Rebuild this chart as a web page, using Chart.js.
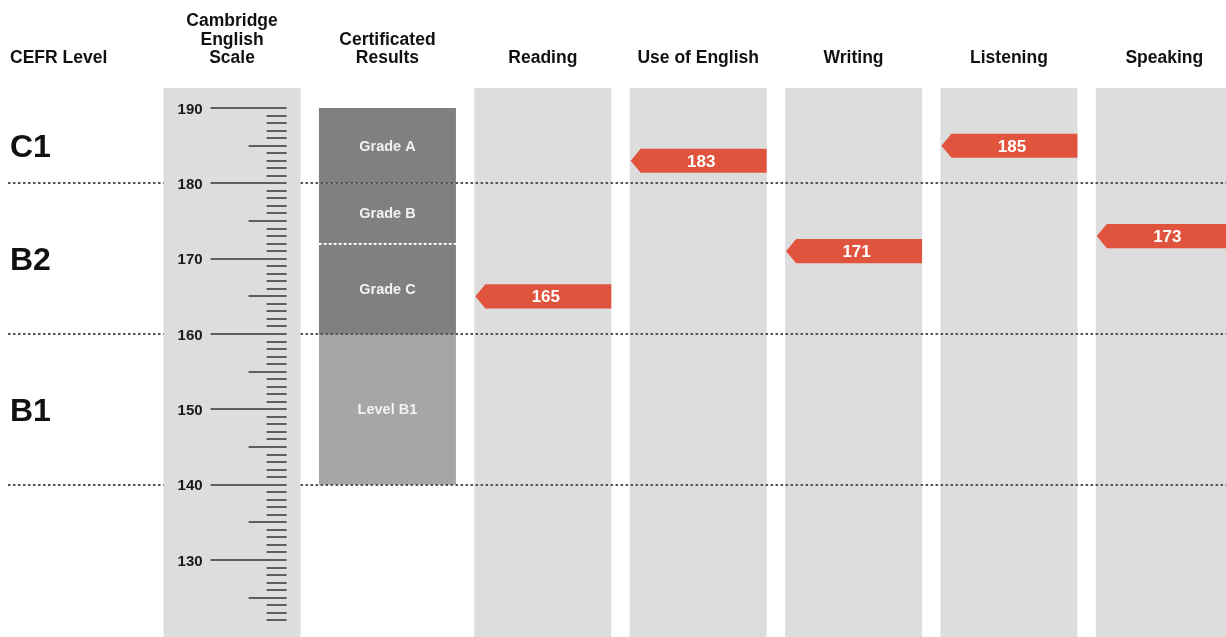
<!DOCTYPE html>
<html>
<head>
<meta charset="utf-8">
<script src="https://cdn.jsdelivr.net/npm/chart.js@4"></script>
<style>
  html, body { margin: 0; padding: 0; background: #fff; overflow: hidden; }
  #wrap { position: relative; width: 1226px; height: 637px; overflow: hidden; }
  #chart { position: absolute; left: -1px; top: 0; }
</style>
</head>
<body>
<div id="wrap"><canvas id="chart" width="1243" height="637"></canvas></div>
<script>
// columns across the page (the first one only holds the CEFR labels)
let columns = ["CEFR Level", "Cambridge English Scale", "Certificated Results", "Reading", "Use of English", "Writing", "Listening", "Speaking"];
let headerLines = [["CEFR Level"], ["Cambridge", "English", "Scale"], ["Certificated", "Results"], ["Reading"], ["Use of English"], ["Writing"], ["Listening"], ["Speaking"]];

// candidate scores per paper
let papers = ["Reading", "Use of English", "Writing", "Listening", "Speaking"];
let scores = [165, 183, 171, 185, 173];

// CEFR bands
let cefrLabels = ["C1", "B2", "B1"];
let cefrMid = [185, 170, 150];
let cefrBounds = [180, 160, 140];

// certificated results bands
let gradeNames = ["Grade A", "Grade B", "Grade C", "Level B1"];
let gradeLow = [180, 172, 160, 140];
let gradeHigh = [190, 180, 172, 160];

// Cambridge English Scale ruler
let scaleMin = 122;
let scaleMax = 190;
let scaleLabels = [190, 180, 170, 160, 150, 140, 130];

// visible range of the value axis
let yMin = 119.78;
let yMax = 204.34;
let columnTop = 192.65;

let RED = "#e0533d";

function columnData(fn) {
  return columns.map(function (c, i) { return fn(c, i); });
}

// grey backgrounds for the ruler and the five papers
let bgData = columnData(function (c, i) {
  return (i === 1 || i >= 3) ? [yMin - 10, columnTop] : null;
});

let gradeSets = gradeNames.map(function (name, g) {
  return {
    label: name,
    data: columnData(function (c, i) { return i === 2 ? [gradeLow[g], gradeHigh[g]] : null; }),
    backgroundColor: g < 3 ? "#808080" : "#a6a6a6",
    grouped: false,
    order: 2
  };
});

let flagData = columnData(function (c) {
  let k = papers.indexOf(c);
  return k < 0 ? null : [scores[k] - 1.6, scores[k] + 1.6];
});
let flagIndex = 1 + gradeSets.length;

// everything drawn on top of the bars
let overlay = {
  id: "overlay",
  afterDatasetsDraw: function (chart) {
    let ctx = chart.ctx;
    let xs = chart.scales.x;
    let ys = chart.scales.y;
    let W = chart.width;
    let ruler = chart.getDatasetMeta(0).data[1];
    let rulerL = ruler.x - ruler.width / 2;
    let rulerR = ruler.x + ruler.width / 2;
    let cert = chart.getDatasetMeta(1).data[2];
    let certL = cert.x - cert.width / 2;
    let certR = cert.x + cert.width / 2;

    ctx.save();

    // dotted CEFR boundaries
    ctx.lineWidth = 2;
    ctx.setLineDash([2.5, 2.5]);
    ctx.strokeStyle = "#555555";
    cefrBounds.forEach(function (b) {
      let py = Math.round(ys.getPixelForValue(b));
      ctx.beginPath();
      ctx.moveTo(9, py);
      ctx.lineTo(rulerL, py);
      ctx.moveTo(rulerR, py);
      ctx.lineTo(W, py);
      ctx.stroke();
    });

    // white dotted line between Grade B and Grade C
    ctx.strokeStyle = "#ffffff";
    gradeLow.forEach(function (b) {
      if (cefrBounds.indexOf(b) >= 0) return;
      let py = Math.round(ys.getPixelForValue(b));
      ctx.beginPath();
      ctx.moveTo(certL, py);
      ctx.lineTo(certR, py);
      ctx.stroke();
    });
    ctx.setLineDash([]);

    // ruler ticks
    ctx.strokeStyle = "#5e5e5e";
    ctx.lineWidth = 2;
    let tickR = rulerR - 14;
    for (let v = scaleMin; v <= scaleMax; v++) {
      let len = v % 10 === 0 ? 76 : (v % 5 === 0 ? 38 : 20);
      let py = Math.round(ys.getPixelForValue(v));
      ctx.beginPath();
      ctx.moveTo(tickR - len, py);
      ctx.lineTo(tickR, py);
      ctx.stroke();
    }
    ctx.fillStyle = "#1a1a1a";
    ctx.font = "bold 15px 'Liberation Sans', Arial, sans-serif";
    ctx.textAlign = "right";
    ctx.textBaseline = "alphabetic";
    scaleLabels.forEach(function (v) {
      ctx.fillText(String(v), rulerL + 39, ys.getPixelForValue(v) + 5.5);
    });

    // headers
    ctx.fillStyle = "#111111";
    ctx.font = "bold 17.5px 'Liberation Sans', Arial, sans-serif";
    headerLines.forEach(function (lines, i) {
      let cx = xs.getPixelForValue(i);
      ctx.textAlign = i === 0 ? "left" : "center";
      if (i === 0) cx = 11;
      lines.forEach(function (line, k) {
        let by = 63.3 - (lines.length - 1 - k) * 18.5;
        ctx.fillText(line, cx, by);
      });
    });

    // CEFR level letters
    ctx.font = "bold 32px 'Liberation Sans', Arial, sans-serif";
    ctx.textAlign = "left";
    cefrLabels.forEach(function (lab, k) {
      ctx.fillText(lab, 11, ys.getPixelForValue(cefrMid[k]) + 11.5);
    });

    // grade labels
    ctx.font = "bold 14.5px 'Liberation Sans', Arial, sans-serif";
    ctx.textAlign = "center";
    ctx.fillStyle = "#f2f2f2";
    gradeNames.forEach(function (name, g) {
      let mid = ys.getPixelForValue((gradeLow[g] + gradeHigh[g]) / 2);
      ctx.fillText(name, cert.x, mid + 5);
    });

    // score flags
    let flagMeta = chart.getDatasetMeta(flagIndex);
    columns.forEach(function (c, i) {
      let k = papers.indexOf(c);
      if (k < 0) return;
      let el = flagMeta.data[i];
      let p = el.getProps(["x", "y", "base", "width"], true);
      let left = p.x - p.width / 2;
      let right = p.x + p.width / 2;
      let top = Math.min(p.y, p.base);
      let bottom = Math.max(p.y, p.base);
      let mid = (top + bottom) / 2;
      ctx.fillStyle = RED;
      ctx.beginPath();
      ctx.moveTo(left + 1, mid);
      ctx.lineTo(left + 11, top);
      ctx.lineTo(right, top);
      ctx.lineTo(right, bottom);
      ctx.lineTo(left + 11, bottom);
      ctx.closePath();
      ctx.fill();
      ctx.fillStyle = "#ffffff";
      ctx.font = "bold 17px 'Liberation Sans', Arial, sans-serif";
      ctx.fillText(String(scores[k]), (left + right) / 2 + 3, mid + 6);
    });

    ctx.restore();
  }
};

let ctx = document.getElementById("chart").getContext("2d");

let chart = new Chart(ctx, {
  type: "bar",
  data: {
    labels: columns,
    datasets: [
      {
        label: "columns",
        data: bgData,
        backgroundColor: "#dddddd",
        grouped: false,
        order: 3
      }
    ].concat(gradeSets).concat([
      {
        label: "scores",
        data: flagData,
        backgroundColor: "rgba(0,0,0,0)",
        grouped: false,
        order: 1
      }
    ])
  },
  options: {
    responsive: false,
    devicePixelRatio: 1,
    animation: false,
    layout: { padding: 0 },
    datasets: {
      bar: { barPercentage: 0.8817, categoryPercentage: 1 }
    },
    plugins: {
      legend: { display: false },
      tooltip: { enabled: false }
    },
    scales: {
      x: { type: "category", display: false, offset: true },
      y: { min: yMin, max: yMax, display: false }
    }
  },
  plugins: [overlay]
});
</script>
</body>
</html>
